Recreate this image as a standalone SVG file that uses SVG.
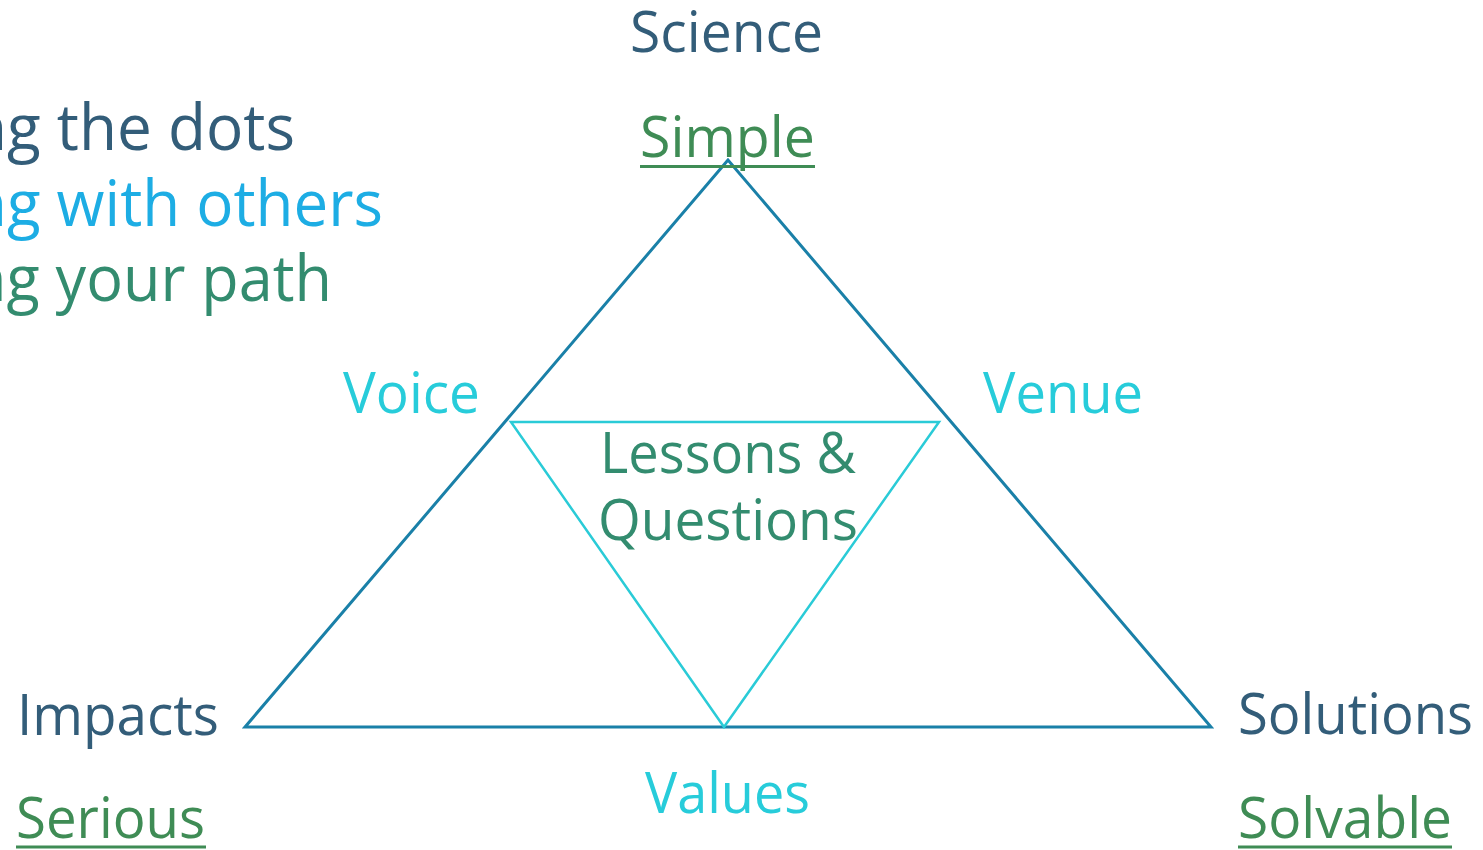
<svg xmlns="http://www.w3.org/2000/svg" width="1483" height="850" viewBox="0 0 1483 850">
<style>
text{font-family:"Open Sans","Noto Sans","Liberation Sans",sans-serif;font-size:57px}
.big{font-size:64px}
.dark{fill:#335D79}
.lblue{fill:#1DADE4}
.teal{fill:#338C6F}
.green{fill:#3F8C55}
.cyan{fill:#27CCDA}
.ul{stroke:#3F8C55;stroke-width:3}
.outer{fill:none;stroke:#1A80A8;stroke-width:3;stroke-linejoin:miter}
.inner{fill:none;stroke:#2ACBD7;stroke-width:2.5}
</style>
<rect width="1483" height="850" fill="#ffffff"/>
<g id="connectors">
<polygon class="outer" points="728,160 245,727 1211,727"/>
<polygon class="inner" points="511,422 939,422 724,727"/>
</g>
<g id="intro">
<text class="big dark" x="-31" y="150" textLength="326" lengthAdjust="spacingAndGlyphs">ng the dots</text>
<text class="big lblue" x="-31" y="226" textLength="414" lengthAdjust="spacingAndGlyphs">ng with others</text>
<text class="big teal" x="-31" y="301" textLength="363" lengthAdjust="spacingAndGlyphs">ng your path</text>
</g>
<g id="science">
<text class="dark" x="630" y="52" textLength="193" lengthAdjust="spacingAndGlyphs">Science</text>
<text class="green" x="640" y="157" textLength="175" lengthAdjust="spacingAndGlyphs">Simple</text>
<line class="ul" x1="640" y1="166.5" x2="815" y2="166.5"/>
</g>
<g id="impacts">
<text class="dark" x="17" y="735" textLength="202" lengthAdjust="spacingAndGlyphs">Impacts</text>
<text class="green" x="16" y="838" textLength="189" lengthAdjust="spacingAndGlyphs">Serious</text>
<line class="ul" x1="16" y1="847" x2="206" y2="847"/>
</g>
<g id="solutions">
<text class="dark" x="1238" y="734" textLength="235" lengthAdjust="spacingAndGlyphs">Solutions</text>
<text class="green" x="1238" y="838" textLength="214" lengthAdjust="spacingAndGlyphs">Solvable</text>
<line class="ul" x1="1238" y1="847" x2="1452" y2="847"/>
</g>
<g id="voice">
<text class="cyan" x="343" y="413" textLength="137" lengthAdjust="spacingAndGlyphs">Voice</text>
</g>
<g id="venue">
<text class="cyan" x="983" y="413" textLength="160" lengthAdjust="spacingAndGlyphs">Venue</text>
</g>
<g id="values">
<text class="cyan" x="645" y="813" textLength="165" lengthAdjust="spacingAndGlyphs">Values</text>
</g>
<g id="lessons">
<text class="teal" x="600" y="473" textLength="256" lengthAdjust="spacingAndGlyphs">Lessons &amp;</text>
<text class="teal" x="598" y="540" textLength="260" lengthAdjust="spacingAndGlyphs">Questions</text>
</g>
</svg>
